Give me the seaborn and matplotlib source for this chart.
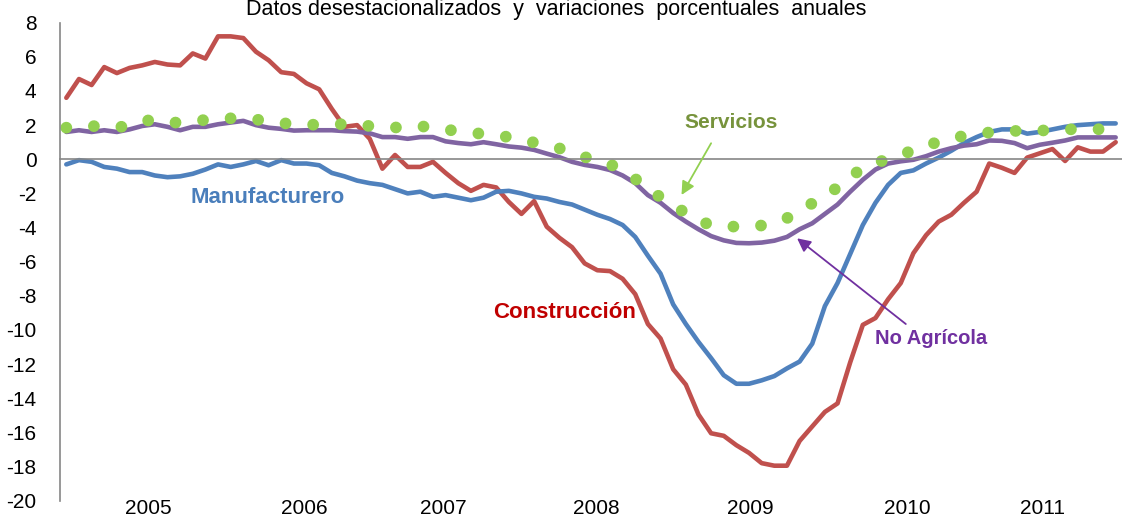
import numpy as np
import pandas as pd
import matplotlib
matplotlib.use("Agg")
import matplotlib.pyplot as plt
import seaborn as sns

# ---------------- data (monthly, Jan 2005 onwards) ----------------
construccion = [3.6, 4.7, 4.35, 5.4, 5.05, 5.35, 5.5, 5.7, 5.55, 5.5, 6.2, 5.9,
                7.2, 7.2, 7.1, 6.3, 5.8, 5.1, 5.0, 4.45, 4.1, 2.95, 1.9, 2.0,
                1.2, -0.55, 0.25, -0.45, -0.45, -0.15, -0.8, -1.4, -1.85, -1.5, -1.65, -2.5,
                -3.2, -2.45, -3.95, -4.6, -5.15, -6.1, -6.5, -6.55, -7.0, -7.9, -9.65, -10.5,
                -12.3, -13.2, -14.95, -16.05, -16.2, -16.75, -17.2, -17.8, -17.95, -17.95, -16.5, -15.65,
                -14.8, -14.3, -11.9, -9.7, -9.3, -8.2, -7.25, -5.5, -4.45, -3.65, -3.25, -2.55,
                -1.9, -0.25, -0.5, -0.8, 0.1, 0.35, 0.6, -0.1, 0.7, 0.45, 0.45, 1.0]
manufacturero = [-0.3, -0.05, -0.15, -0.45, -0.55, -0.75, -0.75, -0.95, -1.05, -1.0, -0.85, -0.6,
                 -0.3, -0.45, -0.3, -0.1, -0.35, -0.05, -0.25, -0.25, -0.35, -0.8, -1.0, -1.25,
                 -1.4, -1.5, -1.75, -2.0, -1.9, -2.2, -2.1, -2.25, -2.4, -2.25, -1.9, -1.85,
                 -2.0, -2.2, -2.3, -2.5, -2.65, -2.95, -3.25, -3.5, -3.85, -4.55, -5.65, -6.7,
                 -8.5, -9.65, -10.7, -11.65, -12.65, -13.15, -13.15, -12.95, -12.7, -12.25, -11.85, -10.8,
                 -8.6, -7.25, -5.55, -3.85, -2.55, -1.5, -0.8, -0.65, -0.25, 0.1, 0.5, 0.95,
                 1.3, 1.6, 1.75, 1.75, 1.5, 1.6, 1.75, 1.9, 2.0, 2.05, 2.1, 2.1]
no_agricola = [1.6, 1.7, 1.6, 1.7, 1.6, 1.75, 1.95, 2.05, 1.9, 1.7, 1.9, 1.9,
               2.05, 2.15, 2.25, 2.0, 1.85, 1.78, 1.68, 1.7, 1.7, 1.7, 1.65, 1.62,
               1.52, 1.3, 1.3, 1.2, 1.3, 1.3, 1.05, 0.95, 0.88, 1.0, 0.88, 0.75,
               0.68, 0.55, 0.33, 0.12, -0.15, -0.33, -0.45, -0.63, -0.95, -1.4, -2.1, -2.55,
               -3.15, -3.65, -4.1, -4.5, -4.75, -4.9, -4.92, -4.88, -4.77, -4.55, -4.1, -3.75,
               -3.2, -2.65, -1.9, -1.2, -0.6, -0.25, -0.12, -0.03, 0.18, 0.45, 0.65, 0.8,
               0.88, 1.1, 1.08, 0.95, 0.65, 0.85, 0.97, 1.1, 1.28, 1.28, 1.28, 1.28]
servicios = [1.85, 1.9, 1.95, 1.9, 1.85, 2.0, 2.25, 2.3, 2.15, 2.15, 2.25, 2.3,
             2.35, 2.4, 2.38, 2.33, 2.22, 2.12, 2.06, 2.02, 2.03, 2.06, 2.05, 2.0,
             1.95, 1.9, 1.86, 1.9, 1.94, 1.85, 1.74, 1.65, 1.56, 1.48, 1.4, 1.3,
             1.14, 0.98, 0.82, 0.64, 0.38, 0.13, -0.07, -0.28, -0.7, -1.15, -1.7, -2.23,
             -2.7, -3.15, -3.6, -3.85, -3.92, -3.95, -3.93, -3.88, -3.7, -3.45, -3.0, -2.58,
             -2.15, -1.65, -1.0, -0.55, -0.22, 0.02, 0.27, 0.52, 0.8, 1.02, 1.22, 1.37,
             1.48, 1.57, 1.62, 1.66, 1.67, 1.68, 1.71, 1.75, 1.76, 1.76, 1.76, 1.76]
years = ["2005", "2006", "2007", "2008", "2009", "2010", "2011"]
y_ticks = list(range(-20, 9, 2))

n = len(construccion)
month = np.arange(n)
df = pd.DataFrame({"mes": month,
                   "Construcción": construccion,
                   "Manufacturero": manufacturero,
                   "No Agrícola": no_agricola,
                   "Servicios": servicios})

# ---------------- style ----------------
sns.set_style("white")
plt.rcParams["font.family"] = ["Liberation Sans", "DejaVu Sans"]
plt.rcParams["axes.unicode_minus"] = False

W, H = 1122, 517
fig = plt.figure(figsize=(W / 100, H / 100), dpi=100)
ax = fig.add_axes([60 / W, 16.3 / H, 1062 / W, 478 / H])

c_red, c_blue, c_purple, c_green = "#c0504d", "#4f81bd", "#8064a2", "#92d050"

sns.lineplot(data=df, x="mes", y="Construcción", ax=ax, color=c_red, lw=3.3)
sns.lineplot(data=df, x="mes", y="Manufacturero", ax=ax, color=c_blue, lw=3.3)
sns.lineplot(data=df, x="mes", y="No Agrícola", ax=ax, color=c_purple, lw=3.3)
sns.lineplot(data=df, x="mes", y="Servicios", ax=ax, color=c_green, lw=8.5)
ln = ax.lines[-1]
ln.set_linestyle((0, (0.001, 2.34)))
ln.set_dash_capstyle("round")

ax.set_xlim(-0.5, -0.5 + 1062 / 12.78)
ax.set_ylim(-20, 8)
ax.set_xlabel("")
ax.set_ylabel("")

gray = "#868686"
for s in ["top", "right"]:
    ax.spines[s].set_visible(False)
ax.spines["left"].set_color(gray)
ax.spines["left"].set_linewidth(1.2)
ax.spines["bottom"].set_position(("data", 0))
ax.spines["bottom"].set_color(gray)
ax.spines["bottom"].set_linewidth(1.2)

ax.set_yticks(y_ticks)
ax.set_yticklabels([str(v) for v in y_ticks])
ax.set_xticks(np.arange(-0.5, 84, 6))
ax.set_xticklabels([])
ax.tick_params(axis="y", direction="out", length=6, width=1.2, color=gray,
               pad=11, labelsize=15, labelcolor="black")
ax.tick_params(axis="x", direction="out", length=7, width=1.2, color=gray)

# year labels (below the plot)
year_pos = [6.46, 18.8, 29.8, 41.9, 54.1, 66.5, 77.2]
for yr, xp in zip(years, year_pos):
    ax.text(xp, -20.45, yr, ha="center", va="center", fontsize=15,
            color="black", clip_on=False)

# series labels and arrows
ax.text(15.93, -2.22, "Manufacturero", color="#4a7ebb", fontsize=16,
        fontweight="bold", ha="center", va="center")
ax.text(39.4, -8.95, "Construcción", color="#c00000", fontsize=16,
        fontweight="bold", ha="center", va="center")
ax.text(52.6, 2.16, "Servicios", color="#77933c", fontsize=15,
        fontweight="bold", ha="center", va="center")
ax.text(68.43, -10.47, "No Agrícola", color="#7030a0", fontsize=14.5,
        fontweight="bold", ha="center", va="center")

ax.annotate("", xy=(48.66, -2.09), xytext=(51.0, 0.94),
            arrowprops=dict(arrowstyle="-|>,head_length=0.8,head_width=0.4",
                            color=c_green, lw=1.3, shrinkA=0, shrinkB=0))
ax.annotate("", xy=(57.8, -4.63), xytext=(66.4, -9.65),
            arrowprops=dict(arrowstyle="-|>,head_length=0.8,head_width=0.4",
                            color="#7030a0", lw=1.3, shrinkA=0, shrinkB=0))

fig.text(556 / W, 1 - 15 / H,
         "Datos desestacionalizados  y  variaciones  porcentuales  anuales",
         ha="center", va="baseline", fontsize=15.5, color="black")

fig.savefig("out.png", dpi=100)
